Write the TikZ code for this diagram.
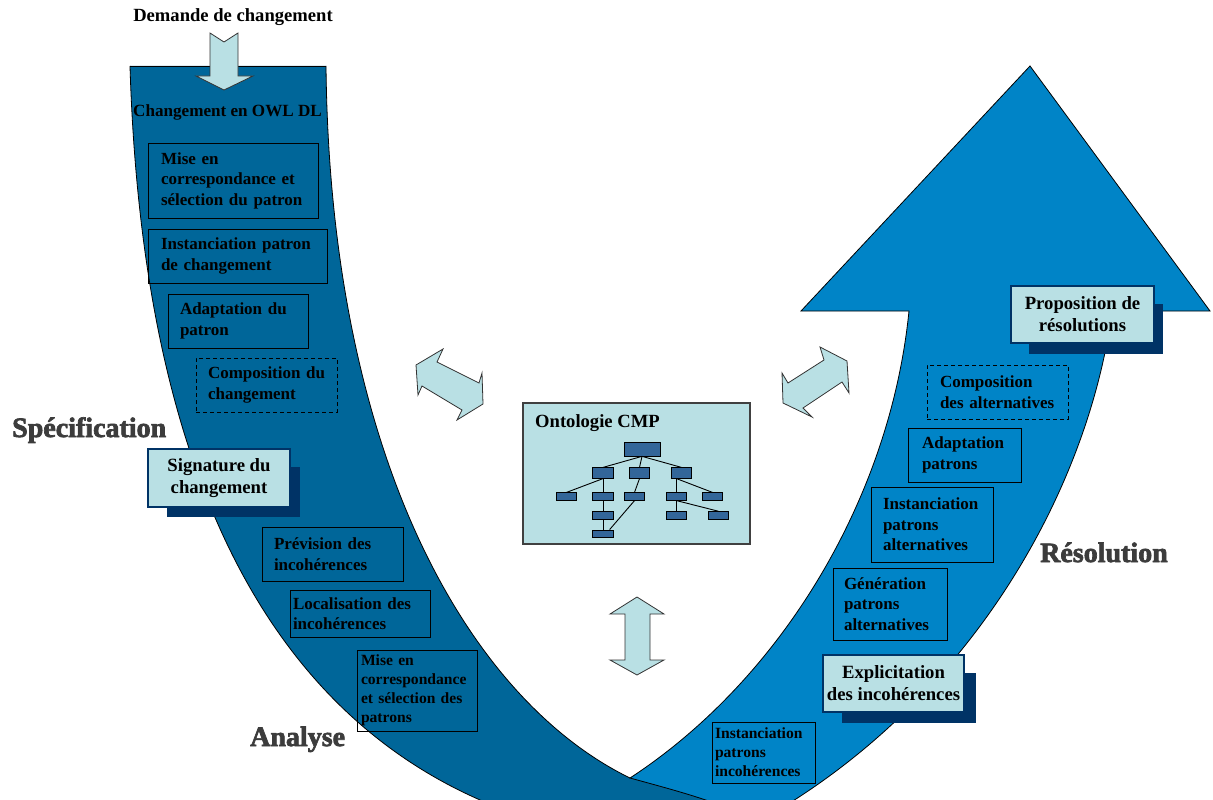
\documentclass[tikz,border=0pt]{standalone}
\usepackage{fontspec}
\setmainfont{Liberation Serif}
\newfontface\heavyfont{Liberation Serif Bold}[RawFeature={embolden=2.5}]
\definecolor{darkband}{RGB}{0,102,153}
\definecolor{lightband}{RGB}{0,132,199}
\definecolor{navy}{RGB}{0,51,102}
\definecolor{lightteal}{RGB}{185,224,228}
\definecolor{nodeblue}{RGB}{51,102,153}
\definecolor{labelgray}{RGB}{60,60,60}
\begin{document}
\begin{tikzpicture}[x=1pt,y=-1pt,
  bandline/.style={draw=black, line width=0.8pt},
  stepbox/.style={draw=black, line width=0.9pt, inner ysep=0pt, align=left, font=\fontsize{17}{20.5}\selectfont\bfseries},
  smallbox/.style={stepbox, font=\fontsize{15.6}{19}\selectfont\bfseries},
  dashbox/.style={stepbox, dash pattern=on 4pt off 3pt},
  hlbox/.style={draw=navy, line width=2.6pt, fill=lightteal, align=center, inner sep=0pt, font=\fontsize{18.7}{22}\selectfont\bfseries},
  hlshadow/.style={fill=navy},
  phase/.style={font=\fontsize{28}{30}\selectfont\heavyfont, text=labelgray, inner sep=0pt},
  title/.style={font=\fontsize{18.6}{22}\selectfont\bfseries, inner sep=0pt},
  dblarrow/.style={fill=lightteal, draw=black!80, line width=0.8pt, line join=miter},
  tnode/.style={fill=nodeblue, draw=black, line width=0.7pt, inner sep=0pt},
  tedge/.style={draw=black, line width=0.9pt},
]
\useasboundingbox (0,0) rectangle (1213,800);

% ---- dark (left) band
\fill[darkband] (130,66) -- (326,66)
  .. controls (330,460) and (470,700) .. (630,778)
  -- (700,790) -- (740,812) -- (510,812)
  .. controls (230,710) and (140,400) .. (130,66) -- cycle;
\draw[bandline] (130,66) -- (326,66);
\draw[bandline] (326,66) .. controls (330,460) and (470,700) .. (630,778);
\draw[bandline] (130,66) .. controls (140,400) and (230,710) .. (510,812);

% ---- light (right) band with arrow head
\filldraw[fill=lightband, bandline] (909,311) -- (801,311) -- (1030,66) -- (1210,311) -- (1112,311)
  .. controls (1090,480) and (980,690) .. (775,812)
  -- (735,812)
  .. controls (712,800) and (670,789) .. (630,778)
  .. controls (780,680) and (890,500) .. (909,311)
  -- cycle;

% ---- top input arrow
\draw[dblarrow] (210,33) -- (224,42) -- (238,33) -- (238,76) -- (253,76) -- (224,90) -- (196,76) -- (210,76) -- cycle;
\node[title] (demande) at (233,17) {Demande de changement};
\node[title, font=\fontsize{17.1}{20}\selectfont\bfseries, anchor=base] (owl) at (227.5,117) {Changement en OWL DL};

% ---- double arrows
\draw[dblarrow] (416,365) -- (443,349) -- (437,362) -- (479,383) -- (482,373) -- (483,404) -- (457,420) -- (462,410) -- (422,386) -- (418,395) -- cycle;
\draw[dblarrow] (820,347) -- (847,361) -- (849,393) -- (842,382) -- (803,408) -- (812,417) -- (783,403) -- (782,373) -- (788,383) -- (824,360) -- cycle;
\draw[dblarrow] (637,597) -- (664,614) -- (650,614) -- (650,660) -- (664,660) -- (637,675) -- (610,660) -- (625,660) -- (625,614) -- (610,614) -- cycle;

% ---- left boxes
\node[stepbox, minimum width=170pt, minimum height=75pt, text width=144pt, inner xsep=13pt] (b1) at (233,180.5) {Mise en\\correspondance et\\sélection du patron};
\node[stepbox, minimum width=179pt, minimum height=54pt, text width=153pt, inner xsep=13pt] (b2) at (237.5,256) {Instanciation patron\\de changement};
\node[stepbox, minimum width=140pt, minimum height=54pt, text width=116pt, inner xsep=12pt] (b3) at (238,321) {Adaptation du\\patron};
\node[dashbox, minimum width=141pt, minimum height=54pt, text width=117pt, inner xsep=12pt] (b4) at (266.5,385) {Composition~du\\changement};
\fill[hlshadow] (167,467) rectangle (300,517);
\node[hlbox, minimum width=142pt, minimum height=58pt] (b5) at (219,478) {Signature du\\changement};
\node[stepbox, minimum width=141pt, minimum height=54pt, text width=117pt, inner xsep=12pt] (b6) at (332.5,554) {Prévision des\\incohérences};
\node[stepbox, minimum width=140pt, minimum height=47pt, text width=134pt, inner xsep=3pt] (b7) at (360,613.5) {Localisation des\\incohérences};
\node[smallbox, minimum width=120pt, minimum height=81pt, text width=112pt, inner xsep=4pt] (b8) at (417,690.5) {Mise en\\correspondance\\et sélection des\\patrons};

% ---- right boxes
\fill[hlshadow] (1029,304) rectangle (1163,354);
\node[hlbox, minimum width=143pt, minimum height=57pt] (r1) at (1082.5,314.5) {Proposition de\\résolutions};
\node[dashbox, minimum width=141pt, minimum height=54pt, text width=115pt, inner xsep=13pt] (r2) at (997.5,392) {Composition\\des~alternatives};
\node[stepbox, minimum width=113pt, minimum height=54pt, text width=85pt, inner xsep=14pt] (r3) at (964.5,455) {Adaptation\\patrons};
\node[stepbox, minimum width=122pt, minimum height=75pt, text width=98pt, inner xsep=12pt] (r4) at (932,524.5) {Instanciation\\patrons\\alternatives};
\node[stepbox, minimum width=114pt, minimum height=72pt, text width=92pt, inner xsep=11pt] (r5) at (890,604) {Génération\\patrons\\alternatives};
\fill[hlshadow] (842,673) rectangle (976,723);
\node[hlbox, minimum width=141pt, minimum height=57pt] (r6) at (893.5,683.5) {Explicitation\\des incohérences};
\node[smallbox, minimum width=103pt, minimum height=61pt, text width=97pt, inner xsep=3pt] (r7) at (763.5,752.5) {Instanciation\\patrons\\incohérences};

% ---- phase labels
\node[phase, anchor=base west] (spec) at (12,437) {Spécification};
\node[phase, anchor=base west] (ana) at (250,746) {Analyse};
\node[phase, anchor=base west] (reso) at (1040,562) {Résolution};

% ---- ontology
\node[draw=black!75, line width=1.2pt, fill=lightteal, minimum width=227pt, minimum height=141pt, inner sep=0pt] (onto) at (636.5,473.5) {};
\node[title, anchor=base west] (ontot) at (535,427) {Ontologie CMP};
\node[tnode, minimum width=36pt, minimum height=14pt] (t0) at (642,449) {};
\node[tnode, minimum width=20.5pt, minimum height=10.5pt] (t1a) at (603,473) {};
\node[tnode, minimum width=20.5pt, minimum height=10.5pt] (t1b) at (639.5,473) {};
\node[tnode, minimum width=20.5pt, minimum height=10.5pt] (t1c) at (681.5,473) {};
\node[tnode, minimum width=20.5pt, minimum height=7.5pt] (t2a) at (566.5,496.5) {};
\node[tnode, minimum width=20.5pt, minimum height=7.5pt] (t2b) at (603,496.5) {};
\node[tnode, minimum width=20.5pt, minimum height=7.5pt] (t2c) at (634.5,496.5) {};
\node[tnode, minimum width=20.5pt, minimum height=7.5pt] (t2d) at (676.5,496.5) {};
\node[tnode, minimum width=20.5pt, minimum height=7.5pt] (t2e) at (712.5,496.5) {};
\node[tnode, minimum width=20.5pt, minimum height=7.5pt] (t3a) at (603,515.3) {};
\node[tnode, minimum width=20.5pt, minimum height=7.5pt] (t3b) at (676.5,515.3) {};
\node[tnode, minimum width=20.5pt, minimum height=7.5pt] (t3c) at (718.3,515.3) {};
\node[tnode, minimum width=20.5pt, minimum height=7.5pt] (t4a) at (603,533.7) {};
\draw[tedge] (t0.south) -- (t1a.north);
\draw[tedge] (t0.south) -- (t1b.north);
\draw[tedge] (t0.south) -- (t1c.north);
\draw[tedge] (t1a.south) -- (t2a.north);
\draw[tedge] (t1a.south) -- (t2b.north);
\draw[tedge] (t1b.south) -- (t2c.north);
\draw[tedge] (t2d.north |- t1c.south) -- (t2d.north);
\draw[tedge] (t2d.north |- t1c.south) -- (t2e.north);
\draw[tedge] (t2b.south) -- (t3a.north);
\draw[tedge] (t3a.south) -- (t4a.north);
\draw[tedge] (t2c.south) -- ([xshift=-4pt]t4a.north east);
\draw[tedge] (t2d.south) -- (t3b.north);
\draw[tedge] (t2d.south) -- (t3c.north);
\end{tikzpicture}
\end{document}
